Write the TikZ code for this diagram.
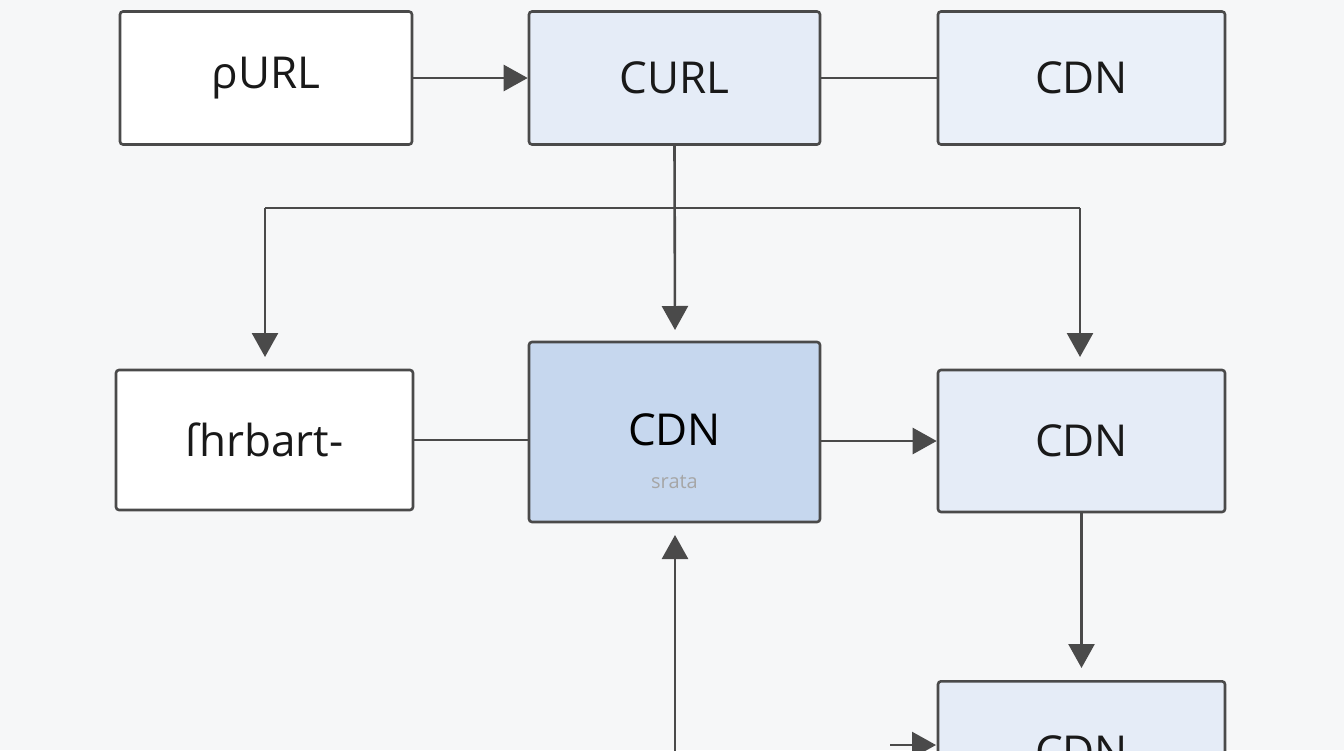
\documentclass[tikz,border=0pt]{standalone}
\usepackage{fontspec}
\setmainfont{Open Sans}
\usetikzlibrary{arrows.meta}
\definecolor{bg}{HTML}{F6F7F8}
\definecolor{ln}{HTML}{4A4A4A}
\definecolor{lb}{HTML}{E5ECF7}
\definecolor{mb}{HTML}{C6D7EE}
\begin{document}
\begin{tikzpicture}[x=1pt,y=-1pt,
  box/.style={draw=ln,line width=2.6pt,rounded corners=3pt,font=\fontsize{44}{44}\selectfont,text=black!90},
  con/.style={draw=ln,line width=2.6pt},
  arr/.style={con,-{Triangle[length=24pt,width=26pt]}}]
\fill[bg] (0,0) rectangle (1344,750);
\useasboundingbox (0,0) rectangle (1344,750);
\begin{scope}
\clip (0,0) rectangle (1344,750);
\node[box,fill=white,minimum width=292pt,minimum height=133pt] (a) at (266,78) {ρURL};
\node[box,fill=lb,minimum width=291pt,minimum height=133pt] (b) at (674.5,78) {CURL};
\node[box,fill=lb!80!white,minimum width=287pt,minimum height=133pt] (c) at (1081.5,78) {CDN};
\node[box,fill=white,minimum width=297pt,minimum height=140pt] (d) at (264.5,440) {ſhrbart-};
\node[box,fill=mb,minimum width=291pt,minimum height=180pt] (e) at (674.5,432) {};
\node[font=\fontsize{44}{44}\selectfont] (et) at (674.5,430) {CDN};
\node[font=\fontsize{20}{20}\selectfont,text=gray!70] (es) at (674.5,482) {srata};
\node[box,fill=lb,minimum width=287pt,minimum height=142pt] (f) at (1081.5,441) {CDN};
\node[box,fill=lb,minimum width=287pt,minimum height=140pt,text depth=0pt,anchor=north] (g) at (1081.5,680) {CDN};
\draw[arr] (a.east) -- (b.west);
\draw[con] (b.east) -- (c.west);
\draw[arr] (b.south) -- (675,330);
\coordinate (hl) at (265,208);
\coordinate (hr) at (1080,208);
\draw[con] (hl) -- (hr);
\draw[arr] (hl) -- (265,357);
\draw[arr] (hr) -- (1080,357);
\draw[con] (d.east) -- (d.east -| e.west);
\draw[arr] (e.east |- f.west) -- (f.west);
\draw[arr] (f.south) -- (f.south |- 0,668);
\coordinate (bot) at (675,760);
\draw[arr] (bot) -- (675,535);
\coordinate (gl) at (890,745);
\draw[arr] (gl) -- (936,745);
\end{scope}
\end{tikzpicture}
\end{document}
